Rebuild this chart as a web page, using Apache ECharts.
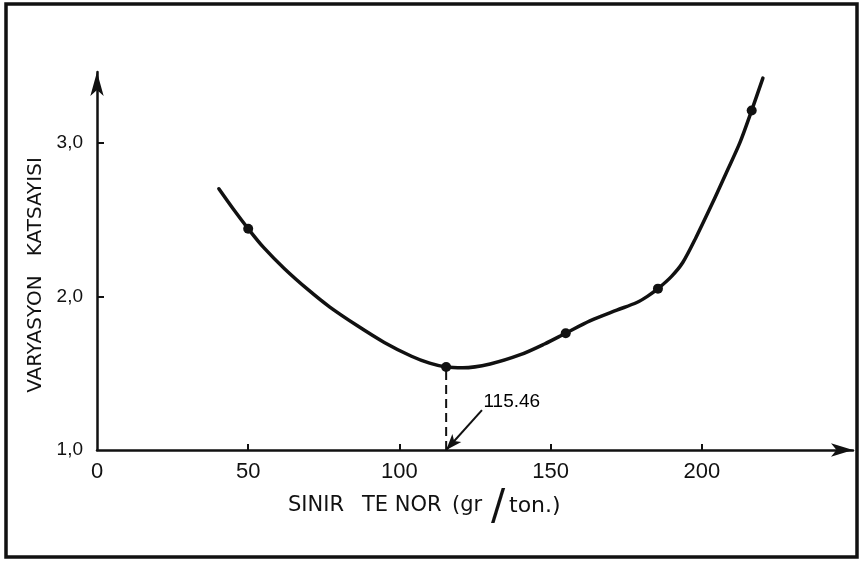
<!DOCTYPE html>
<html>
<head>
<meta charset="utf-8">
<script src="https://cdn.jsdelivr.net/npm/echarts@6/dist/echarts.min.js"></script>
<style>
  html, body { margin: 0; padding: 0; background: #fff; }
  #chart { width: 860px; height: 563px; }
</style>
</head>
<body>
<div id="chart"></div>
<script>
// Cut-off grade (g/t) vs. coefficient of variation
const curveX = [40.3, 45, 50, 55, 62, 70, 77, 86, 95, 104, 110, 115.46, 121, 130, 140, 148, 155, 163, 171.9, 178.5, 182, 185.5, 190, 193.7, 198, 203.6, 208, 212.6, 216.5, 220.2];
const curveY = [2.70, 2.57, 2.44, 2.32, 2.18, 2.04, 1.93, 1.81, 1.70, 1.61, 1.565, 1.54, 1.535, 1.56, 1.62, 1.69, 1.76, 1.84, 1.91, 1.96, 2.00, 2.05, 2.13, 2.22, 2.38, 2.61, 2.80, 3.00, 3.21, 3.42];

// Measured points marked with dots
const pointX = [50, 115.46, 155, 185.5, 216.5];
const pointY = [2.44, 1.54, 1.76, 2.05, 3.21];

// Optimum cut-off grade
const optimumX = 115.46;
const optimumY = 1.54;
const optimumLabel = '115.46';

// Axis ticks and labels
const xTickValues = [0, 50, 100, 150, 200];
const xTickMarks = [50, 100, 150, 200];
const yTickValues = [1, 2, 3];
const yTickLabels = ['1,0', '2,0', '3,0'];
const yTickMarks = [2, 3];

// Axis titles (x title is lettered in pieces)
const xTitleParts = ['SINIR', 'TE NOR', '(gr', '/', 'ton.)'];
const yAxisTitle = 'VARYASYON   KATSAYISI';

const ink = '#111';
const font = '"DejaVu Sans", "Liberation Sans", sans-serif';
const numFont = '"Liberation Sans", Arial, sans-serif';

const chart = echarts.init(document.getElementById('chart'), null, { renderer: 'canvas' });

const curveData = curveX.map((x, i) => [x, curveY[i]]);
const pointData = pointX.map((x, i) => [x, pointY[i]]);

function titleText(str, x, y, size, align) {
  return {
    type: 'text',
    x: x,
    y: y,
    style: {
      text: str,
      fill: ink,
      fontFamily: font,
      fontSize: size,
      align: align || 'left',
      verticalAlign: 'middle'
    },
    silent: true
  };
}

chart.setOption({
  animation: false,
  backgroundColor: '#fff',
  grid: { left: 97, right: 7, top: 72, bottom: 113, containLabel: false },
  xAxis: {
    type: 'value',
    min: 0,
    max: 250,
    interval: 50,
    splitLine: { show: false },
    axisLine: {
      show: true,
      symbol: ['none', 'arrow'],
      symbolSize: [10, 22],
      lineStyle: { color: ink, width: 2.5 }
    },
    axisTick: {
      show: true, inside: true, length: 6,
      customValues: xTickMarks,
      lineStyle: { color: ink, width: 2 }
    },
    axisLabel: {
      show: true,
      customValues: xTickValues,
      margin: 11,
      color: ink,
      fontFamily: numFont,
      fontSize: 22,
      formatter: v => (xTickValues.indexOf(v) >= 0 ? String(v) : '')
    }
  },
  yAxis: {
    type: 'value',
    min: 1,
    max: 3.46,
    interval: 1,
    splitLine: { show: false },
    axisLine: {
      show: true,
      symbol: ['none', 'arrow'],
      symbolSize: [10, 24],
      lineStyle: { color: ink, width: 2.5 }
    },
    axisTick: {
      show: true, inside: true, length: 7,
      customValues: yTickMarks,
      lineStyle: { color: ink, width: 2 }
    },
    axisLabel: {
      show: true,
      customValues: yTickValues,
      margin: 14,
      color: ink,
      fontFamily: numFont,
      fontSize: 19,
      formatter: v => {
        const i = yTickValues.indexOf(v);
        return i >= 0 ? yTickLabels[i] : '';
      }
    }
  },
  series: [
    {
      // fitted curve
      type: 'line',
      data: curveData,
      smooth: 0.3,
      showSymbol: false,
      symbol: 'none',
      clip: false,
      lineStyle: { color: ink, width: 3.5, cap: 'round', join: 'round' },
      z: 3
    },
    {
      // measured points
      type: 'scatter',
      data: pointData,
      symbol: 'circle',
      symbolSize: 10,
      itemStyle: { color: ink, opacity: 1 },
      z: 4
    },
    {
      // dashed drop line at the optimum
      type: 'line',
      data: [[optimumX, 1], [optimumX, optimumY]],
      showSymbol: false,
      symbol: 'none',
      lineStyle: { color: ink, width: 2, type: [9, 5] },
      z: 2,
      markLine: {
        silent: true,
        symbol: ['none', 'arrow'],
        symbolSize: [9, 16],
        lineStyle: { color: ink, width: 2, type: 'solid', opacity: 1 },
        label: { show: false },
        data: [[
          { coord: [127.3, 1.26] },
          { coord: [optimumX, 1.0] }
        ]]
      }
    },
    {
      // optimum value label next to the arrow
      type: 'scatter',
      data: [[127.8, 1.315]],
      symbolSize: 0,
      itemStyle: { color: ink, opacity: 1 },
      label: {
        show: true,
        position: 'right',
        distance: 0,
        formatter: optimumLabel,
        color: '#000',
        opacity: 1,
        fontFamily: numFont,
        fontSize: 19
      },
      z: 5
    }
  ],
  graphic: [
    {
      type: 'rect',
      shape: { x: 6, y: 4, width: 851, height: 553 },
      style: { fill: 'none', stroke: ink, lineWidth: 3.5 },
      silent: true,
      z: 10
    },
    {
      type: 'text',
      x: 36,
      y: 275,
      rotation: Math.PI / 2,
      style: {
        text: yAxisTitle,
        fill: ink,
        fontFamily: font,
        fontSize: 20,
        align: 'center',
        verticalAlign: 'middle'
      },
      silent: true
    },
    titleText(xTitleParts[0], 288, 506, 21),
    titleText(xTitleParts[1], 362, 506, 21),
    titleText(xTitleParts[2], 452, 506, 21),
    titleText(xTitleParts[3], 498, 508, 42, 'center'),
    titleText(xTitleParts[4], 509, 506, 22)
  ]
});
</script>
</body>
</html>
